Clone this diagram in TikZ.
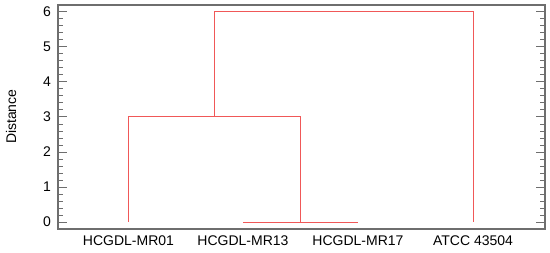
\documentclass[tikz,border=0pt]{standalone}
\usepackage{fontspec}
\setmainfont{Liberation Sans}
\usetikzlibrary{positioning}
\definecolor{TreeRed}{RGB}{240,88,88}
\definecolor{AxisGray}{RGB}{110,110,110}

\begin{document}
\begin{tikzpicture}[x=1pt,y=1pt,
    treeline/.style={TreeRed,line width=.9pt},
    lbl/.style={font=\fontsize{14}{16}\selectfont,inner sep=0pt}]
  \useasboundingbox (0,0) rectangle (550,253);
  % frame
  \draw[AxisGray,line width=1.1pt] (58,24) rectangle (545,248);
  \node[lbl,rotate=90] (ylab) at (11,136.3) {Distance};
  \begin{scope}[shift={(0,31)},y=35.1pt]
    % ticks
    \foreach \v in {0,...,6}{
      \draw[AxisGray] (58,\v) -- ++(9,0);
      \draw[AxisGray] (545,\v) -- ++(-9,0);
      \node[lbl,anchor=east] (t\v) at (51,\v) {\v};
    }
    \foreach \m in {0,...,5}
      \foreach \k in {1,...,4}{
        \draw[AxisGray] (58,{\m+\k/5}) -- ++(5,0);
        \draw[AxisGray] (545,{\m+\k/5}) -- ++(-5,0);
      }
    % leaves and joins
    \coordinate (l1) at (128.5,0);
    \coordinate (l2) at (243,0);
    \coordinate (l3) at (358,0);
    \coordinate (l4) at (473,0);
    \coordinate (j1) at (300.5,0);
    \coordinate (j2) at (214.5,3);
    \coordinate (j3) at (340,6);
    \draw[treeline] (l2) -- (l3);
    \draw[treeline] (l1) |- (j2) -| (j1);
    \draw[treeline] (j2) |- (j3) -| (l4);
    \node[lbl,below=14pt of l1] (n1) {HCGDL-MR01};
    \node[lbl,below=14pt of l2] (n2) {HCGDL-MR13};
    \node[lbl,below=14pt of l3] (n3) {HCGDL-MR17};
    \node[lbl,below=14pt of l4] (n4) {ATCC 43504};
  \end{scope}
\end{tikzpicture}
\end{document}
